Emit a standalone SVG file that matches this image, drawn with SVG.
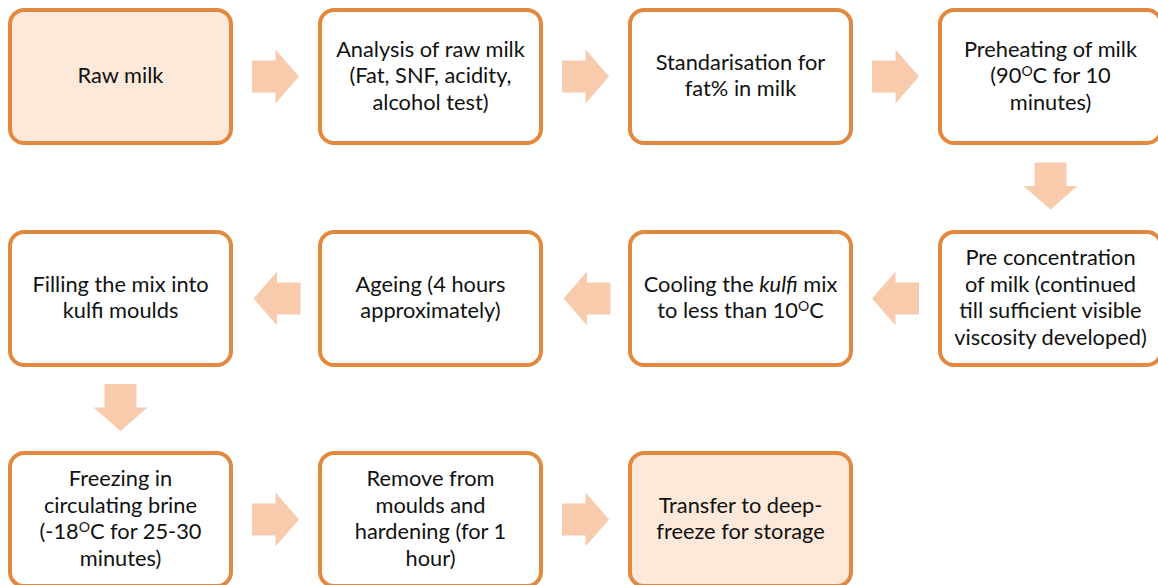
<svg xmlns="http://www.w3.org/2000/svg" width="1158" height="585" viewBox="0 0 1158 585">
<style>
.box{fill:#FFFFFF;stroke:#E2893F;stroke-width:4}
.hl{fill:#FCE9DA}
.arrow{fill:#F8CBAD}
text{font-family:Lato,"Liberation Sans",sans-serif;font-size:21.8px;fill:#111111;text-anchor:middle}
.sup{font-size:14px}
</style>
<defs>
<path id="arr" d="M-23.5,-16 H0 V-27 L23.5,0 L0,27 V16 H-23.5 Z"/>
</defs>
<rect width="1158" height="585" fill="#FFFFFF"/>
<g id="connectors" class="arrow">
<use href="#arr" transform="translate(275.5,76.5)"/>
<use href="#arr" transform="translate(585.5,76.5)"/>
<use href="#arr" transform="translate(895.5,76.5)"/>
<use href="#arr" transform="translate(1050.5,186) rotate(90)"/>
<use href="#arr" transform="translate(895.5,298.5) rotate(180)"/>
<use href="#arr" transform="translate(587,298.5) rotate(180)"/>
<use href="#arr" transform="translate(277,298.5) rotate(180)"/>
<use href="#arr" transform="translate(120.5,407.5) rotate(90)"/>
<use href="#arr" transform="translate(275.5,519.5)"/>
<use href="#arr" transform="translate(585.5,519.5)"/>
</g>
<g id="raw-milk">
<rect class="box hl" x="10" y="10" width="221" height="133" rx="14"/>
<text x="120.5" y="83">Raw milk</text>
</g>
<g id="analysis">
<rect class="box" x="320" y="10" width="221" height="133" rx="14"/>
<text x="430.5" y="56.5">Analysis of raw milk</text>
<text x="430.5" y="83">(Fat, SNF, acidity,</text>
<text x="430.5" y="109.5">alcohol test)</text>
</g>
<g id="standardisation">
<rect class="box" x="630" y="10" width="221" height="133" rx="14"/>
<text x="740.5" y="69.75">Standarisation for</text>
<text x="740.5" y="96.25">fat% in milk</text>
</g>
<g id="preheating">
<rect class="box" x="940" y="10" width="221" height="133" rx="14"/>
<text x="1050.5" y="56.5">Preheating of milk</text>
<text x="1050.5" y="83">(90<tspan class="sup" dy="-7.5">O</tspan><tspan dy="7.5">C for 10</tspan></text>
<text x="1050.5" y="109.5">minutes)</text>
</g>
<g id="pre-concentration">
<rect class="box" x="940" y="232" width="221" height="133" rx="14"/>
<text x="1050.5" y="265.25">Pre concentration</text>
<text x="1050.5" y="291.75">of milk (continued</text>
<text x="1050.5" y="318.25">till sufficient visible</text>
<text x="1050.5" y="344.75">viscosity developed)</text>
</g>
<g id="cooling">
<rect class="box" x="630" y="232" width="221" height="133" rx="14"/>
<text x="740.5" y="291.5">Cooling the <tspan font-style="italic">kulfi</tspan> mix</text>
<text x="740.5" y="318">to less than 10<tspan class="sup" dy="-7.5">O</tspan><tspan dy="7.5">C</tspan></text>
</g>
<g id="ageing">
<rect class="box" x="320" y="232" width="221" height="133" rx="14"/>
<text x="430.5" y="291.5">Ageing (4 hours</text>
<text x="430.5" y="318">approximately)</text>
</g>
<g id="filling">
<rect class="box" x="10" y="232" width="221" height="133" rx="14"/>
<text x="120.5" y="291.5">Filling the mix into</text>
<text x="120.5" y="318">kulfi moulds</text>
</g>
<g id="freezing">
<rect class="box" x="10" y="453" width="221" height="133" rx="14"/>
<text x="120.5" y="486.25">Freezing in</text>
<text x="120.5" y="512.75">circulating brine</text>
<text x="120.5" y="539.25">(-18<tspan class="sup" dy="-7.5">O</tspan><tspan dy="7.5">C for 25-30</tspan></text>
<text x="120.5" y="565.75">minutes)</text>
</g>
<g id="hardening">
<rect class="box" x="320" y="453" width="221" height="133" rx="14"/>
<text x="430.5" y="486.25">Remove from</text>
<text x="430.5" y="512.75">moulds and</text>
<text x="430.5" y="539.25">hardening (for 1</text>
<text x="430.5" y="565.75">hour)</text>
</g>
<g id="storage">
<rect class="box hl" x="630" y="453" width="221" height="133" rx="14"/>
<text x="740.5" y="512.75">Transfer to deep-</text>
<text x="740.5" y="539.25">freeze for storage</text>
</g>
</svg>
